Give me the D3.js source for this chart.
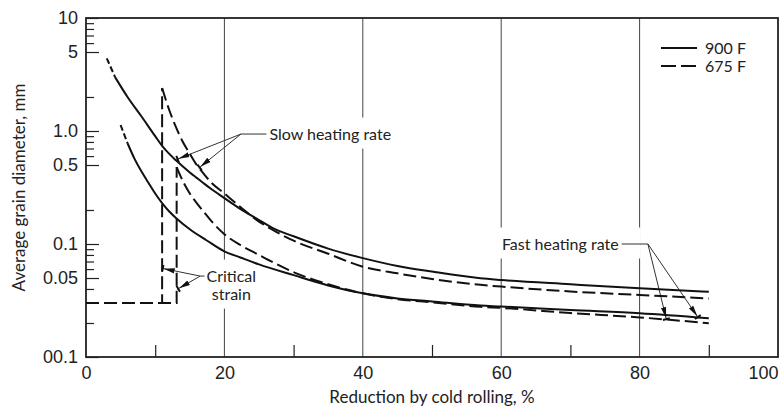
<!DOCTYPE html>
<html>
<head>
<meta charset="utf-8">
<script src="https://cdnjs.cloudflare.com/ajax/libs/d3/7.8.5/d3.min.js"></script>
<style>
  body { margin: 0; background: #fff; }
  svg { display: block; font-family: Lato, "Liberation Sans", sans-serif; }
  .tick text { font-size: 18px; fill: #222; }
  .note { font-size: 16px; fill: #222; }
</style>
</head>
<body>
<div class="content-container"></div>
<script>

// 900 F, slow heating rate (first segment is the dashed lead-in)
const slow900X = [3, 4.2, 6, 8, 10, 11, 12, 13, 14, 15, 16, 17, 18, 20, 22, 25, 27, 30, 35, 40, 45, 50, 57, 60, 70, 80, 90];
const slow900Y = [4.4, 3.0, 2.0, 1.35, 0.9, 0.74, 0.63, 0.55, 0.485, 0.43, 0.385, 0.345, 0.31, 0.255, 0.21, 0.163, 0.138, 0.117, 0.091, 0.075, 0.064, 0.057, 0.0497, 0.048, 0.044, 0.0405, 0.0378];

// 900 F, fast heating rate (first segment is the dashed lead-in)
const fast900X = [5, 6, 7, 8, 9, 10, 11, 12, 13, 15, 17.4, 20, 22.3, 25, 30, 35, 40, 45, 50, 57, 60, 70, 80, 90];
const fast900Y = [1.13, 0.78, 0.57, 0.44, 0.35, 0.28, 0.23, 0.195, 0.17, 0.135, 0.108, 0.086, 0.076, 0.066, 0.053, 0.043, 0.0366, 0.033, 0.031, 0.0285, 0.028, 0.026, 0.0244, 0.022];

// 675 F, slow heating rate (starts at the critical strain)
const slow675X = [11, 12, 13, 14, 15, 16, 17, 18, 20, 22, 25, 27, 30, 35, 40, 45, 50, 57, 60, 70, 80, 90];
const slow675Y = [2.4, 1.55, 1.08, 0.8, 0.63, 0.5, 0.42, 0.355, 0.28, 0.22, 0.158, 0.133, 0.107, 0.082, 0.063, 0.055, 0.049, 0.0435, 0.042, 0.038, 0.0354, 0.033];

// 675 F, fast heating rate (starts at the critical strain)
const fast675X = [13.1, 14, 15, 16, 17.2, 18.5, 20, 22.3, 25, 27, 30.4, 35, 40, 45, 50, 57, 60, 70, 80, 90];
const fast675Y = [0.48, 0.36, 0.28, 0.23, 0.187, 0.15, 0.122, 0.098, 0.08, 0.069, 0.055, 0.044, 0.0366, 0.0325, 0.0305, 0.0278, 0.0272, 0.0245, 0.0224, 0.0199];

// grain size before recrystallization
const initialSize = 0.03;

const seriesNames = ["900 F", "675 F"];

const xTickValues = [0, 20, 40, 60, 80, 100];
const xTickLabels = ["0", "20", "40", "60", "80", "100"];
const xMinorTicks = [10, 30, 50, 70, 90];
const yTickValues = [0.01, 0.05, 0.1, 0.5, 1, 5, 10];
const yTickLabels = ["00.1", "0.05", "0.1", "0.5", "1.0", "5", "10"];
const yMinorTicks = [0.02, 0.04, 0.06, 0.07, 0.08, 0.09, 0.2, 0.6, 0.7, 0.8, 0.9, 2, 6, 7, 8, 9];

// annotations, in data units: [reduction %, grain mm]
const slowNote = { text: "Slow heating rate", at: [26.5, 0.94], hook: [22.4, 0.94], tips: [[13.1, 0.56], [16.3, 0.47]] };
const fastNote = { text: "Fast heating rate", at: [60.1, 0.1], hook: [81.2, 0.1], tips: [[83.9, 0.0212], [88.5, 0.0222]] };
const critNote = { text: ["Critical", "strain"], at: [21, 0.052], hook: [16.5, 0.052], tips: [[10.95, 0.061], [13.2, 0.0398]] };

const width = 780;
const height = 410;
const dash = "13,5";

const xScale = d3.scaleLinear().domain([0, 100]).range([86, 778]);
const yScale = d3.scaleLog().domain([0.01, 10]).range([357, 18]);

const zip = (xs, ys) => xs.map((x, i) => [x, ys[i]]);
const pt = (d) => [xScale(d[0]), yScale(d[1])];

const smooth = d3.line().x(d => xScale(d[0])).y(d => yScale(d[1])).curve(d3.curveMonotoneX);
const straight = d3.line().x(d => xScale(d[0])).y(d => yScale(d[1]));

const chart = d3.select(".content-container")
  .append("svg")
  .attr("width", width)
  .attr("height", height);

chart.append("defs").append("marker")
  .attr("id", "head")
  .attr("markerUnits", "userSpaceOnUse")
  .attr("viewBox", "0 -4 14 8")
  .attr("refX", 13)
  .attr("refY", 0)
  .attr("markerWidth", 14)
  .attr("markerHeight", 8)
  .attr("orient", "auto")
  .append("path")
  .attr("d", "M0,-2.6 L11,0 L0,2.6 Z M11,-3.5 L13,-3.5 L13,3.5 L11,3.5 Z")
  .attr("fill", "#111");

//GRID

chart.append("g")
  .selectAll("line")
  .data([20, 40, 60, 80])
  .enter()
  .append("line")
  .attr("x1", d => xScale(d))
  .attr("x2", d => xScale(d))
  .attr("y1", yScale(10))
  .attr("y2", yScale(0.01))
  .attr("stroke", "#444")
  .attr("stroke-width", 1);

//AXES

const xAxis = d3.axisBottom(xScale)
  .tickValues(xTickValues)
  .tickFormat((d, i) => xTickLabels[i])
  .tickSize(0)
  .tickPadding(9);

const gx = chart.append("g")
  .attr("transform", "translate(0," + yScale(0.01) + ")")
  .call(xAxis);
gx.select(".domain").remove();
// last label pulled in so it stays on the page
gx.selectAll(".tick text").filter(d => d === 100).attr("dx", -15);

chart.append("g")
  .attr("transform", "translate(0," + yScale(0.01) + ")")
  .call(d3.axisBottom(xScale).tickValues(xMinorTicks).tickSize(-12).tickFormat(""))
  .call(g => g.select(".domain").remove())
  .selectAll("line").attr("stroke", "#222").attr("stroke-width", 1.2);

const yAxis = d3.axisLeft(yScale)
  .tickValues(yTickValues)
  .tickFormat((d, i) => yTickLabels[i])
  .tickSizeInner(-13)
  .tickSizeOuter(0)
  .tickPadding(8);

const gy = chart.append("g")
  .attr("transform", "translate(" + xScale(0) + ",0)")
  .call(yAxis);
gy.select(".domain").remove();
gy.selectAll(".tick line").attr("stroke", "#222").attr("stroke-width", 1.2);

chart.append("g")
  .attr("transform", "translate(" + xScale(0) + ",0)")
  .call(d3.axisLeft(yScale).tickValues(yMinorTicks).tickSizeInner(-8).tickSizeOuter(0).tickFormat(""))
  .call(g => g.select(".domain").remove())
  .selectAll("line").attr("stroke", "#222").attr("stroke-width", 1.2);

// frame
chart.append("rect")
  .attr("x", xScale(0))
  .attr("y", yScale(10))
  .attr("width", xScale(100) - xScale(0))
  .attr("height", yScale(0.01) - yScale(10))
  .attr("fill", "none")
  .attr("stroke", "#222")
  .attr("stroke-width", 1.8);

chart.append("text")
  .attr("x", (xScale(0) + xScale(100)) / 2)
  .attr("y", 403)
  .attr("text-anchor", "middle")
  .style("font-size", "17px")
  .style("fill", "#222")
  .text("Reduction by cold rolling, %");

chart.append("text")
  .attr("transform", "rotate(-90)")
  .attr("x", -(yScale(10) + yScale(0.01)) / 2)
  .attr("y", 25)
  .attr("text-anchor", "middle")
  .style("font-size", "17px")
  .style("fill", "#222")
  .text("Average grain diameter, mm");

//LABELS (white box cuts the grid line behind them)

function note(n, padRight) {
  const g = chart.append("g");
  const bg = g.append("rect").attr("fill", "#fff");
  const lines = Array.isArray(n.text) ? n.text : [n.text];
  const t = g.append("text")
    .attr("class", "note")
    .attr("x", xScale(n.at[0]))
    .attr("y", yScale(n.at[1]) + 5.5)
    .attr("text-anchor", lines.length > 1 ? "middle" : "start");
  lines.forEach((s, i) => {
    t.append("tspan").attr("x", xScale(n.at[0])).attr("dy", i ? 18 : 0).text(s);
  });
  const b = t.node().getBBox();
  bg.attr("x", b.x - 4).attr("y", b.y - 6)
    .attr("width", b.width + 8 + padRight).attr("height", b.height + 12);

  const [hx, hy] = pt(n.hook);
  const labelEdge = lines.length > 1 ? b.x - 2 : (n.hook[0] < n.at[0] ? b.x - 3 : b.x + b.width + 3);
  g.append("line")
    .attr("x1", labelEdge).attr("y1", hy)
    .attr("x2", hx).attr("y2", hy)
    .attr("stroke", "#333").attr("stroke-width", 1);
  n.tips.forEach(tip => {
    const [tx, ty] = pt(tip);
    g.append("line")
      .attr("x1", hx).attr("y1", hy)
      .attr("x2", tx).attr("y2", ty)
      .attr("stroke", "#333").attr("stroke-width", 1)
      .attr("marker-end", "url(#head)");
  });
}

note(slowNote, 0);
note(fastNote, 18);
note(critNote, 0);

//CURVES

const curves = chart.append("g").attr("fill", "none").attr("stroke", "#111").attr("stroke-width", 2);

[[slow900X, slow900Y], [fast900X, fast900Y]].forEach(([xs, ys]) => {
  const pts = zip(xs, ys);
  curves.append("path").attr("d", straight(pts.slice(0, 2))).attr("stroke-dasharray", "6,3");
  curves.append("path").attr("d", smooth(pts.slice(1)));
});

[[slow675X, slow675Y], [fast675X, fast675Y]].forEach(([xs, ys]) => {
  const step = [[0, initialSize], [xs[0], initialSize], [xs[0], ys[0]]];
  curves.append("path").attr("d", straight(step)).attr("stroke-dasharray", dash);
  curves.append("path").attr("d", smooth(zip(xs, ys))).attr("stroke-dasharray", dash);
});

//LEGEND

const legend = chart.append("g").attr("transform", "translate(661,48)");

legend.selectAll("line")
  .data(seriesNames)
  .enter()
  .append("line")
  .attr("x1", 0).attr("x2", 36)
  .attr("y1", (d, i) => i * 18).attr("y2", (d, i) => i * 18)
  .attr("stroke", "#111").attr("stroke-width", 2)
  .attr("stroke-dasharray", (d, i) => i ? "15,5" : null);

legend.selectAll("text")
  .data(seriesNames)
  .enter()
  .append("text")
  .attr("class", "note")
  .attr("x", 44)
  .attr("y", (d, i) => i * 18 + 6)
  .text(d => d);

</script>
</body>
</html>
